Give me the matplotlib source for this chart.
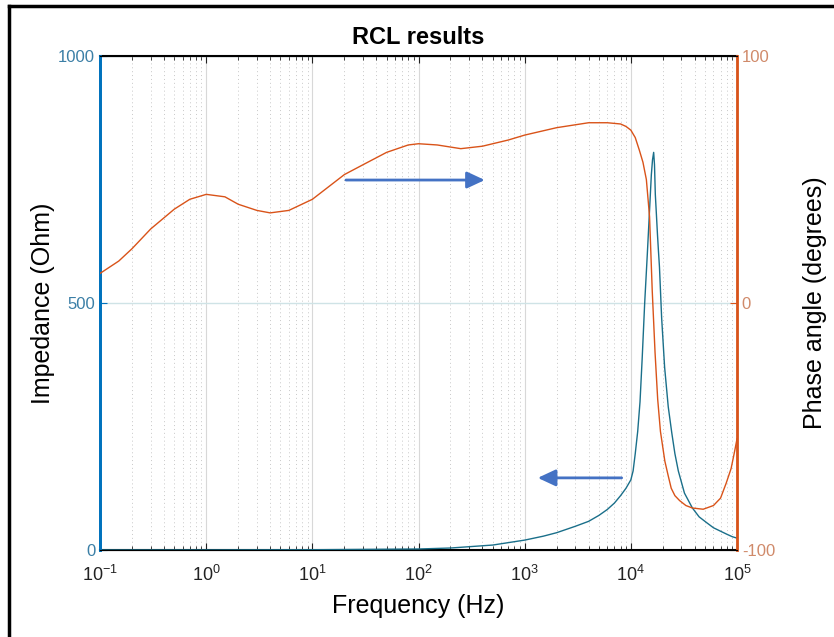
import numpy as np
import matplotlib.pyplot as plt
from matplotlib.lines import Line2D
from matplotlib.ticker import FixedLocator, NullFormatter

# --- Data ---
z_freq = [0.1, 1, 10, 100, 200, 500, 1000, 1500, 2000, 3000, 4000, 5000,
          6000, 7000, 8000, 9000, 10000, 10500, 11000, 11600, 12200, 12800,
          13500, 14300, 15100, 15600, 16000, 16400, 16700, 17000, 17400,
          17800, 18200, 18600, 19500, 20800, 22500, 24300, 26000, 28000,
          32000, 38000, 44000, 52000, 60000, 70000, 80000, 90000, 100000]
z_ohm = [0, 0, 0.5, 2, 4, 10, 20, 28, 35, 48, 58, 70,
         82, 95, 110, 125, 142, 160, 195, 240, 300, 390,
         500, 600, 700, 760, 790, 805, 780, 720, 680,
         640, 605, 573, 470, 370, 290, 237, 195, 160,
         115, 85, 67, 55, 45, 38, 32, 27, 24]

ph_freq = [0.1, 0.15, 0.2, 0.3, 0.5, 0.7, 1.0, 1.5, 2, 3, 4, 6, 10, 20, 30,
           50, 80, 100, 150, 250, 400, 700, 1000, 2000, 4000, 6000, 8000,
           9000, 10000, 11000, 12000, 13000, 14000, 15000, 15900, 16900,
           17900, 19000, 20900, 22500, 24000, 26000, 28800, 33000, 38000,
           48000, 60000, 70000, 79000, 88000, 95000, 100000]
ph_deg = [12, 17, 22, 30, 38, 42, 44, 43, 40, 37.5, 36.5, 37.5, 42, 52, 56,
          61, 64, 64.5, 64, 62.5, 63.5, 66, 68, 71, 73, 73, 72.5,
          71.5, 70, 67, 62, 57, 50, 35, 5, -20,
          -39, -52, -64, -70, -75, -78, -80, -82, -83,
          -83.5, -82, -79, -73, -67, -60, -55]

x_ticks = [0.1, 1, 10, 100, 1000, 10000, 100000]
left_ticks = [0, 500, 1000]
right_ticks = [-100, 0, 100]

teal = "#1a6f8a"
blue = "#0072BD"
orange = "#D95319"
arrow_c = "#4472C4"

plt.rcParams["font.family"] = ["Liberation Sans", "DejaVu Sans"]
plt.rcParams["axes.unicode_minus"] = False

fig = plt.figure(figsize=(8.34, 6.37), dpi=100)
ax = fig.add_axes([0.12, 0.1366, 0.7637, 0.7754])
ax2 = ax.twinx()

# --- Impedance (left axis) ---
ax.plot(z_freq, z_ohm, color=teal, lw=1.0, zorder=3)
ax.set_xscale("log")
ax.set_xlim(0.1, 1e5)
ax.set_ylim(0, 1000)
ax.set_yticks(left_ticks)
ax.set_ylabel("Impedance (Ohm)", fontsize=18, labelpad=2)
ax.set_xlabel("Frequency (Hz)", fontsize=18, labelpad=6)
ax.set_title("RCL results", fontsize=17, fontweight="bold", pad=9)

ax.xaxis.set_major_locator(FixedLocator(x_ticks))
minor = [m * d for d in x_ticks[:-1] for m in range(2, 10)]
ax.xaxis.set_minor_locator(FixedLocator(minor))
ax.xaxis.set_minor_formatter(NullFormatter())

# grid: solid light major, dotted minor
ax.grid(True, which="major", axis="x", color="#d8d8d8", lw=0.8)
ax.grid(True, which="minor", axis="x", color="#c8c8c8", lw=0.7, linestyle=(0, (1, 3)))
ax.grid(True, which="major", axis="y", color="#cfe3e6", lw=1.0)

ax.tick_params(axis="x", which="both", direction="in", top=True, colors="#222222",
               labelsize=13, pad=11)
ax.tick_params(axis="x", which="major", length=5)
ax.tick_params(axis="x", which="minor", length=3)
ax.tick_params(axis="y", direction="in", colors=blue, labelsize=12, length=5)
ax.spines["left"].set_color(blue)
ax.spines["left"].set_linewidth(2)
ax.spines["top"].set_linewidth(1.5)
ax.spines["bottom"].set_linewidth(1.5)

# --- Phase angle (right axis) ---
ax2.plot(ph_freq, ph_deg, color=orange, lw=1.0, zorder=3)
ax2.set_ylim(-100, 100)
ax2.set_yticks(right_ticks)
ax2.set_ylabel("Phase angle (degrees)", fontsize=18, labelpad=20)
ax2.tick_params(axis="y", direction="in", colors=orange, labelsize=12, length=5)
ax2.spines["right"].set_color(orange)
ax2.spines["right"].set_linewidth(2)
ax2.spines["left"].set_color(blue)
ax2.spines["left"].set_linewidth(2)

for t in ax.get_yticklabels():
    t.set_color("#3b7fa6")
for t in ax2.get_yticklabels():
    t.set_color("#d08a6a")

# --- Annotation arrows ---
ax.annotate("", xy=(447, 749), xytext=(19.5, 749),
            arrowprops=dict(arrowstyle="-|>,head_length=0.6,head_width=0.28",
                            color=arrow_c, lw=2, mutation_scale=18))
ax.annotate("", xy=(1250, 146), xytext=(8700, 146),
            arrowprops=dict(arrowstyle="-|>,head_length=0.6,head_width=0.28",
                            color=arrow_c, lw=2, mutation_scale=18))

# --- Frame of the original screenshot (left and top edges) ---
fig.add_artist(Line2D([0.0105, 0.0105], [0, 0.991], color="black", lw=2.5))
fig.add_artist(Line2D([0.0105, 1.0], [0.991, 0.991], color="black", lw=2.5))

fig.savefig("out.png", dpi=100)
